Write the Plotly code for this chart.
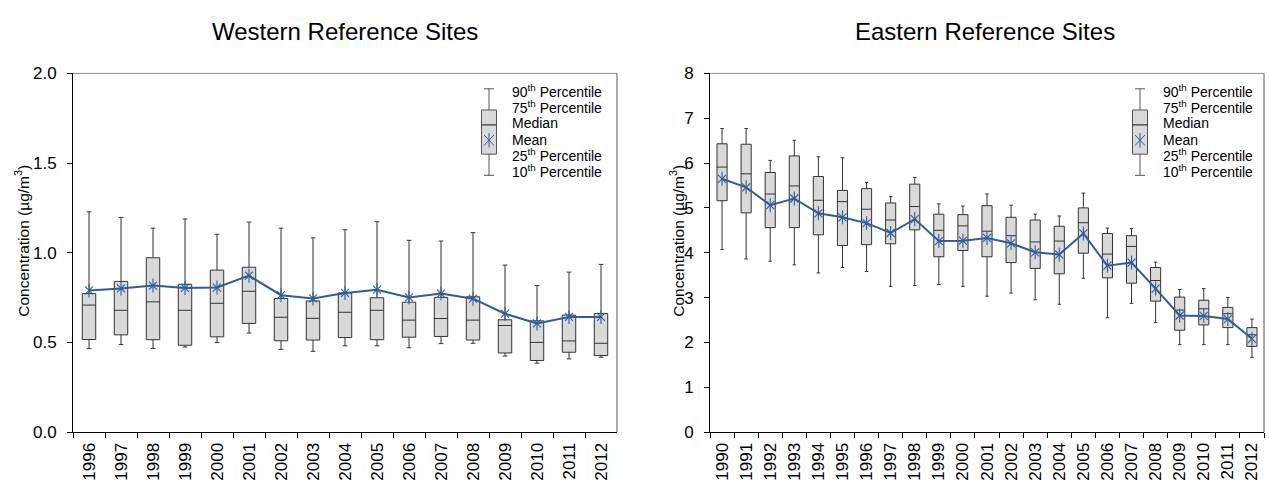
import plotly.graph_objects as go

W, H = 1269, 493

# ---------------- data ----------------
west_years = [str(y) for y in range(1996, 2013)]
west_p90 = [1.228, 1.197, 1.137, 1.188, 1.103, 1.171, 1.137, 1.083, 1.128, 1.173, 1.069, 1.065, 1.112, 0.931, 0.817, 0.892, 0.935]
west_p75 = [0.772, 0.840, 0.972, 0.824, 0.903, 0.919, 0.745, 0.731, 0.776, 0.749, 0.724, 0.751, 0.754, 0.626, 0.620, 0.652, 0.661]
west_med = [0.708, 0.679, 0.726, 0.679, 0.718, 0.785, 0.640, 0.634, 0.668, 0.679, 0.624, 0.633, 0.624, 0.594, 0.500, 0.508, 0.495]
west_p25 = [0.516, 0.542, 0.515, 0.484, 0.531, 0.606, 0.509, 0.513, 0.527, 0.515, 0.529, 0.533, 0.513, 0.441, 0.399, 0.445, 0.427]
west_p10 = [0.465, 0.488, 0.466, 0.474, 0.499, 0.552, 0.461, 0.450, 0.481, 0.481, 0.470, 0.493, 0.495, 0.424, 0.384, 0.408, 0.417]
west_mean = [0.790, 0.801, 0.817, 0.804, 0.806, 0.872, 0.763, 0.745, 0.776, 0.794, 0.751, 0.772, 0.744, 0.660, 0.606, 0.642, 0.642]

east_years = [str(y) for y in range(1990, 2013)]
east_p90 = [6.77, 6.77, 6.06, 6.51, 6.14, 6.12, 5.57, 5.25, 5.68, 5.09, 5.04, 5.31, 5.06, 4.86, 4.82, 5.33, 4.55, 4.54, 3.79, 3.18, 3.20, 3.00, 2.52]
east_p75 = [6.43, 6.42, 5.79, 6.16, 5.70, 5.39, 5.43, 5.11, 5.53, 4.86, 4.85, 5.05, 4.79, 4.73, 4.59, 5.00, 4.43, 4.38, 3.67, 3.01, 2.94, 2.78, 2.33]
east_med = [5.91, 5.76, 5.31, 5.49, 5.17, 5.14, 4.97, 4.73, 5.03, 4.50, 4.60, 4.48, 4.38, 4.24, 4.26, 4.67, 3.97, 4.14, 3.38, 2.72, 2.75, 2.64, 2.17]
east_p25 = [5.16, 4.89, 4.56, 4.56, 4.40, 4.16, 4.18, 4.20, 4.51, 3.91, 4.05, 3.91, 3.78, 3.65, 3.53, 3.99, 3.44, 3.32, 2.92, 2.27, 2.39, 2.33, 1.91]
east_p10 = [4.07, 3.86, 3.81, 3.73, 3.55, 3.67, 3.58, 3.25, 3.27, 3.29, 3.25, 3.03, 3.10, 2.95, 2.85, 3.43, 2.55, 2.87, 2.44, 1.95, 1.95, 1.95, 1.66]
east_mean = [5.65, 5.46, 5.06, 5.21, 4.88, 4.79, 4.66, 4.44, 4.75, 4.26, 4.27, 4.33, 4.21, 4.01, 3.96, 4.43, 3.71, 3.78, 3.20, 2.60, 2.59, 2.52, 2.08]

titles = ["Western Reference Sites", "Eastern Reference Sites"]
y_title = "Concentration (µg/m<sup>3</sup>)"
legend_labels = ["90<sup>th</sup> Percentile", "75<sup>th</sup> Percentile", "Median",
                 "Mean", "25<sup>th</sup> Percentile", "10<sup>th</sup> Percentile"]

# ---------------- style ----------------
FONT = "Liberation Sans, Arial, sans-serif"
BOX_FILL = "#d9d9d9"
BOX_LINE = "#333333"
MEAN_COL = "#2f5d9b"


def px(x):
    return x / W


def py(y):
    return 1 - y / H


fig = go.Figure()


def add_panel(years, p10, p25, med, p75, p90, mean, xa, ya):
    fig.add_trace(go.Box(
        x=years, q1=p25, median=med, q3=p75, lowerfence=p10, upperfence=p90,
        boxpoints=False, width=0.42, whiskerwidth=0.35,
        fillcolor=BOX_FILL, line=dict(color=BOX_LINE, width=1),
        xaxis=xa, yaxis=ya, showlegend=False, hoverinfo="skip"))
    fig.add_trace(go.Scatter(
        x=years, y=mean, mode="lines+markers",
        line=dict(color=MEAN_COL, width=2),
        marker=dict(symbol="x-thin-open", size=8, color=MEAN_COL,
                    line=dict(color=MEAN_COL, width=1.1)),
        xaxis=xa, yaxis=ya, showlegend=False))
    fig.add_trace(go.Scatter(
        x=years, y=mean, mode="markers",
        marker=dict(symbol="line-ns-open", size=10, color=MEAN_COL,
                    line=dict(color=MEAN_COL, width=1.1)),
        xaxis=xa, yaxis=ya, showlegend=False))


add_panel(west_years, west_p10, west_p25, west_med, west_p75, west_p90, west_mean, "x", "y")
add_panel(east_years, east_p10, east_p25, east_med, east_p75, east_p90, east_mean, "x2", "y2")

top, bottom = 67, 440
xdom1 = [px(73), px(617)]
xdom2 = [px(710), px(1264)]
ydom = [py(bottom), py(top)]

axis_common = dict(showgrid=False, zeroline=False, showline=True, linecolor="black",
                   linewidth=1, ticks="outside", ticklen=5, tickcolor="black",
                   tickfont=dict(family=FONT, size=17, color="black"))

fig.update_layout(
    width=W, height=H, autosize=False,
    margin=dict(l=0, r=0, t=0, b=0),
    paper_bgcolor="white", plot_bgcolor="white",
    font=dict(family=FONT, color="black"),
    showlegend=False,
    xaxis=dict(domain=xdom1, anchor="y", type="category", tickangle=-90, ticklabelstandoff=3,
               tickson="boundaries", range=[-0.5, len(west_years) - 0.5], **axis_common),
    yaxis=dict(domain=ydom, anchor="x", range=[0, 2], dtick=0.5, tickformat=".1f",
               ticklabelstandoff=7, **axis_common),
    xaxis2=dict(domain=xdom2, anchor="y2", type="category", tickangle=-90, ticklabelstandoff=3,
                tickson="boundaries", range=[-0.5, len(east_years) - 0.5], **axis_common),
    yaxis2=dict(domain=ydom, anchor="x2", range=[0, 8], dtick=1, ticklabelstandoff=7, **axis_common),
)

shapes = []
annotations = []

# plot-area borders (top/right grey)
for xd in (xdom1, xdom2):
    shapes.append(dict(type="line", xref="paper", yref="paper", x0=xd[0], x1=xd[1], y0=ydom[1], y1=ydom[1],
                       line=dict(color="#8c8c8c", width=1)))
    shapes.append(dict(type="line", xref="paper", yref="paper", x0=xd[1], x1=xd[1], y0=ydom[0], y1=ydom[1],
                       line=dict(color="#555555", width=1)))

# titles
for t, cx in zip(titles, (345, 985)):
    annotations.append(dict(text=t, x=px(cx), y=py(23), xref="paper", yref="paper", showarrow=False,
                            xanchor="center", yanchor="middle", font=dict(family=FONT, size=24, color="black")))
# y-axis titles
for cx in (22, 677):
    annotations.append(dict(text=y_title, x=px(cx), y=py(241), xref="paper", yref="paper",
                            showarrow=False, textangle=-90, xanchor="center", yanchor="middle",
                            font=dict(family=FONT, size=15.5, color="black")))


# legend glyphs
def legend(cx, tx):
    g = "#555555"
    shapes.append(dict(type="line", xref="paper", yref="paper", x0=px(cx), x1=px(cx), y0=py(83), y1=py(105), line=dict(color=g, width=1)))
    shapes.append(dict(type="line", xref="paper", yref="paper", x0=px(cx), x1=px(cx), y0=py(151), y1=py(173), line=dict(color=g, width=1)))
    shapes.append(dict(type="line", xref="paper", yref="paper", x0=px(cx - 5), x1=px(cx + 5), y0=py(83), y1=py(83), line=dict(color=g, width=1)))
    shapes.append(dict(type="line", xref="paper", yref="paper", x0=px(cx - 5), x1=px(cx + 5), y0=py(173), y1=py(173), line=dict(color=g, width=1)))
    shapes.append(dict(type="rect", xref="paper", yref="paper", x0=px(cx - 7.5), x1=px(cx + 7.5), y0=py(151), y1=py(105),
                       fillcolor=BOX_FILL, line=dict(color=g, width=1)))
    shapes.append(dict(type="line", xref="paper", yref="paper", x0=px(cx - 7.5), x1=px(cx + 7.5), y0=py(120.5), y1=py(120.5), line=dict(color="#333333", width=1.2)))
    # mean asterisk
    shapes.append(dict(type="line", xref="paper", yref="paper", x0=px(cx - 5), x1=px(cx + 5), y0=py(131), y1=py(142), line=dict(color=MEAN_COL, width=1)))
    shapes.append(dict(type="line", xref="paper", yref="paper", x0=px(cx - 5), x1=px(cx + 5), y0=py(142), y1=py(131), line=dict(color=MEAN_COL, width=1)))
    shapes.append(dict(type="line", xref="paper", yref="paper", x0=px(cx), x1=px(cx), y0=py(129), y1=py(144), line=dict(color=MEAN_COL, width=1)))
    for lab, yy in zip(legend_labels, (85, 102, 119, 136, 152, 169)):
        annotations.append(dict(text=lab, x=px(tx), y=py(yy), xref="paper", yref="paper", showarrow=False,
                                xanchor="left", yanchor="middle", font=dict(family=FONT, size=14, color="black")))


legend(489, 510)
legend(1140, 1161)

fig.update_layout(shapes=shapes, annotations=annotations)
fig.write_html("out.html")
